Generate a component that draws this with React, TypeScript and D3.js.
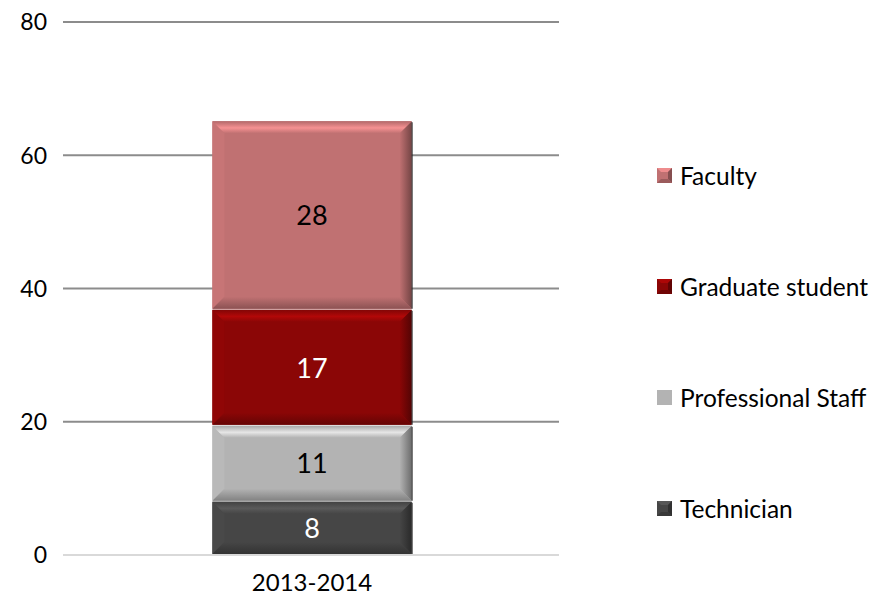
import React from "react";
import * as d3 from "d3";

const categories = ["2013-2014"];
const seriesNames = ["Technician", "Professional Staff", "Graduate student", "Faculty"];
const seriesValues = [8, 11.4, 17.4, 28.3];
const seriesColors = ["#464646", "#b3b3b3", "#8b0606", "#c07172"];
const labelColors = ["#ffffff", "#000000", "#ffffff", "#000000"];
const yTicks = [0, 20, 40, 60, 80];
const legendOrder = ["Faculty", "Graduate student", "Professional Staff", "Technician"];

const W = 872;
const H = 600;
const FONT = "Lato, 'Open Sans', sans-serif";

export default function App() {
  const y = d3.scaleLinear().domain([0, 80]).range([555, 22]);
  const x = d3.scaleBand().domain(categories).range([63, 561]).paddingInner(0.6).paddingOuter(0.3);
  const bw = x.bandwidth();
  const bx = x(categories[0]) as number;

  const stackData = [
    Object.fromEntries(seriesNames.map((n, i) => [n, seriesValues[i]])),
  ];
  const stacked = d3.stack<any>().keys(seriesNames)(stackData);

  const bevel = (x0: number, y0: number, x1: number, y1: number, color: string, id: string) => {
    const b = Math.min(12, (y1 - y0) / 2.5);
    const c = d3.color(color)!;
    const light = c.brighter(0.7).formatHex();
    const dark = c.darker(0.9).formatHex();
    const mid = c.formatHex();
    const top = `M${x0},${y0}L${x1},${y0}L${x1 - b},${y0 + b}L${x0 + b},${y0 + b}Z`;
    const bottom = `M${x0},${y1}L${x1},${y1}L${x1 - b},${y1 - b}L${x0 + b},${y1 - b}Z`;
    const left = `M${x0},${y0}L${x0 + b},${y0 + b}L${x0 + b},${y1 - b}L${x0},${y1}Z`;
    const right = `M${x1},${y0}L${x1 - b},${y0 + b}L${x1 - b},${y1 - b}L${x1},${y1}Z`;
    return (
      <g key={id}>
        <defs>
          <linearGradient id={`${id}-t`} x1="0" y1="0" x2="0" y2="1">
            <stop offset="0" stopColor={c.darker(0.2).formatHex()} />
            <stop offset="0.55" stopColor={light} />
            <stop offset="1" stopColor={mid} />
          </linearGradient>
          <linearGradient id={`${id}-b`} x1="0" y1="0" x2="0" y2="1">
            <stop offset="0" stopColor={mid} />
            <stop offset="1" stopColor={dark} />
          </linearGradient>
          <linearGradient id={`${id}-r`} x1="0" y1="0" x2="1" y2="0">
            <stop offset="0" stopColor={mid} />
            <stop offset="1" stopColor={c.darker(1.4).formatHex()} />
          </linearGradient>
        </defs>
        <rect x={x0} y={y0} width={x1 - x0} height={y1 - y0} fill={mid} />
        <path d={left} fill={c.brighter(0.1).formatHex()} />
        <path d={right} fill={`url(#${id}-r)`} />
        <path d={top} fill={`url(#${id}-t)`} />
        <path d={bottom} fill={`url(#${id}-b)`} />
        <line x1={x1 + 0.5} x2={x1 + 0.5} y1={y0 + 1} y2={y1} stroke="#222" strokeWidth={1.5} opacity={0.7} />
      </g>
    );
  };

  return (
    <svg width={W} height={H} style={{ position: "absolute", left: 0, top: 0, background: "#fff" }}>
      {yTicks.map((t) => (
        <g key={t}>
          <line
            x1={63}
            x2={559}
            y1={y(t)}
            y2={y(t)}
            stroke={t === 0 ? "#d9d9d9" : "#8c8c8c"}
            strokeWidth={2}
          />
          <text x={47} y={y(t)} dy="0.36em" textAnchor="end" fontFamily={FONT} fontSize={23} fill="#000">
            {t}
          </text>
        </g>
      ))}
      {stacked.map((s, i) => {
        const d = s[0];
        const y0 = y(d[1]);
        const y1 = y(d[0]);
        return bevel(bx, y0, bx + bw, y1 - 1, seriesColors[i], `seg${i}`);
      })}
      {stacked.map((s, i) => {
        const d = s[0];
        return (
          <text
            key={`l${i}`}
            x={bx + bw / 2}
            y={(y(d[0]) + y(d[1])) / 2}
            dy="0.36em"
            textAnchor="middle"
            fontFamily={FONT}
            fontSize={27}
            fill={labelColors[i]}
          >
            {d3.format(".0f")(seriesValues[i])}
          </text>
        );
      })}
      {categories.map((c) => (
        <text key={c} x={(x(c) as number) + bw / 2} y={591} textAnchor="middle" fontFamily={FONT} fontSize={24}>
          {c}
        </text>
      ))}
      {legendOrder.map((name, i) => {
        const idx = seriesNames.indexOf(name);
        const ly = 176 + i * 111;
        const col = d3.color(seriesColors[idx])!;
        return (
          <g key={name}>
            <rect x={657} y={ly - 8} width={15} height={15} fill={seriesColors[idx]} />
            {name !== "Professional Staff" && (
              <>
                <path d={`M657,${ly - 8}L672,${ly - 8}L668,${ly - 4}L661,${ly - 4}Z`} fill={col.brighter(0.6).formatHex()} />
                <path d={`M672,${ly - 8}L672,${ly + 7}L668,${ly + 3}L668,${ly - 4}Z`} fill={col.darker(1).formatHex()} />
                <path d={`M657,${ly + 7}L672,${ly + 7}L668,${ly + 3}L661,${ly + 3}Z`} fill={col.darker(0.6).formatHex()} />
              </>
            )}
            <text x={680} y={ly} dy="0.36em" fontFamily={FONT} fontSize={24.5} fill="#000">
              {name}
            </text>
          </g>
        );
      })}
    </svg>
  );
}
